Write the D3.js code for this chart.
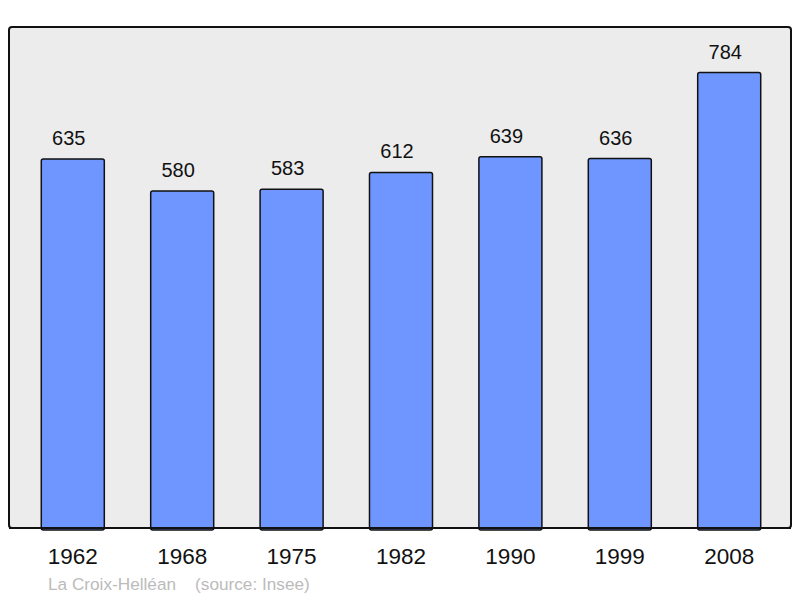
<!DOCTYPE html>
<html>
<head>
<meta charset="utf-8">
<script src="https://cdn.jsdelivr.net/npm/d3@7"></script>
<style>
body { margin: 0; background: #fff; }
text { font-family: "Liberation Sans", Arial, sans-serif; }
</style>
</head>
<body>
<script>
var years = ["1962", "1968", "1975", "1982", "1990", "1999", "2008"];
var population = [635, 580, 583, 612, 639, 636, 784];

var svg = d3.select("body").append("svg")
    .attr("width", 800)
    .attr("height", 598);

var plotLeft = 9, plotRight = 791, plotTop = 27, plotBottom = 528;

// fond du graphique
svg.append("rect")
    .attr("x", plotLeft)
    .attr("y", plotTop)
    .attr("width", plotRight - plotLeft)
    .attr("height", plotBottom - plotTop)
    .attr("rx", 3)
    .attr("fill", "#ececec")
    .attr("stroke", "#111")
    .attr("stroke-width", 2);

var x = d3.scaleBand()
    .domain(years)
    .range([plotLeft + 1, plotRight + 1])
    .paddingInner(0.424)
    .paddingOuter(0.286);

var y = d3.scaleLinear()
    .domain([0, d3.max(population) * 1.1])
    .range([plotBottom, plotTop]);

var data = years.map(function(d, i){ return {year: d, value: population[i]}; });

svg.selectAll(".bar")
    .data(data)
    .enter()
    .append("rect")
    .attr("class", "bar")
    .attr("x", function(d){ return x(d.year); })
    .attr("y", function(d){ return y(d.value); })
    .attr("width", x.bandwidth())
    .attr("height", function(d){ return plotBottom - y(d.value) + 2; })
    .attr("rx", 2)
    .attr("fill", "#6f96ff")
    .attr("stroke", "#111")
    .attr("stroke-width", 1.5);

// bord inférieur par-dessus les barres
svg.append("line")
    .attr("x1", plotLeft).attr("x2", plotRight)
    .attr("y1", plotBottom).attr("y2", plotBottom)
    .attr("stroke", "#111")
    .attr("stroke-width", 2);

svg.selectAll(".val")
    .data(data)
    .enter()
    .append("text")
    .attr("class", "val")
    .attr("x", function(d){ return x(d.year) + x.bandwidth() / 2 - 4; })
    .attr("y", function(d){ return y(d.value) - 14; })
    .attr("text-anchor", "middle")
    .attr("font-size", 20)
    .attr("fill", "#111")
    .text(function(d){ return d.value; });

svg.selectAll(".year")
    .data(years)
    .enter()
    .append("text")
    .attr("class", "year")
    .attr("x", function(d){ return x(d) + x.bandwidth() / 2; })
    .attr("y", 564)
    .attr("text-anchor", "middle")
    .attr("font-size", 22.5)
    .attr("fill", "#111")
    .text(function(d){ return d; });

svg.append("text")
    .attr("x", 48)
    .attr("y", 590)
    .attr("font-size", 17.2)
    .attr("fill", "#bbb")
    .style("white-space", "pre")
    .text("La Croix-Helléan    (source: Insee)");
</script>
</body>
</html>
